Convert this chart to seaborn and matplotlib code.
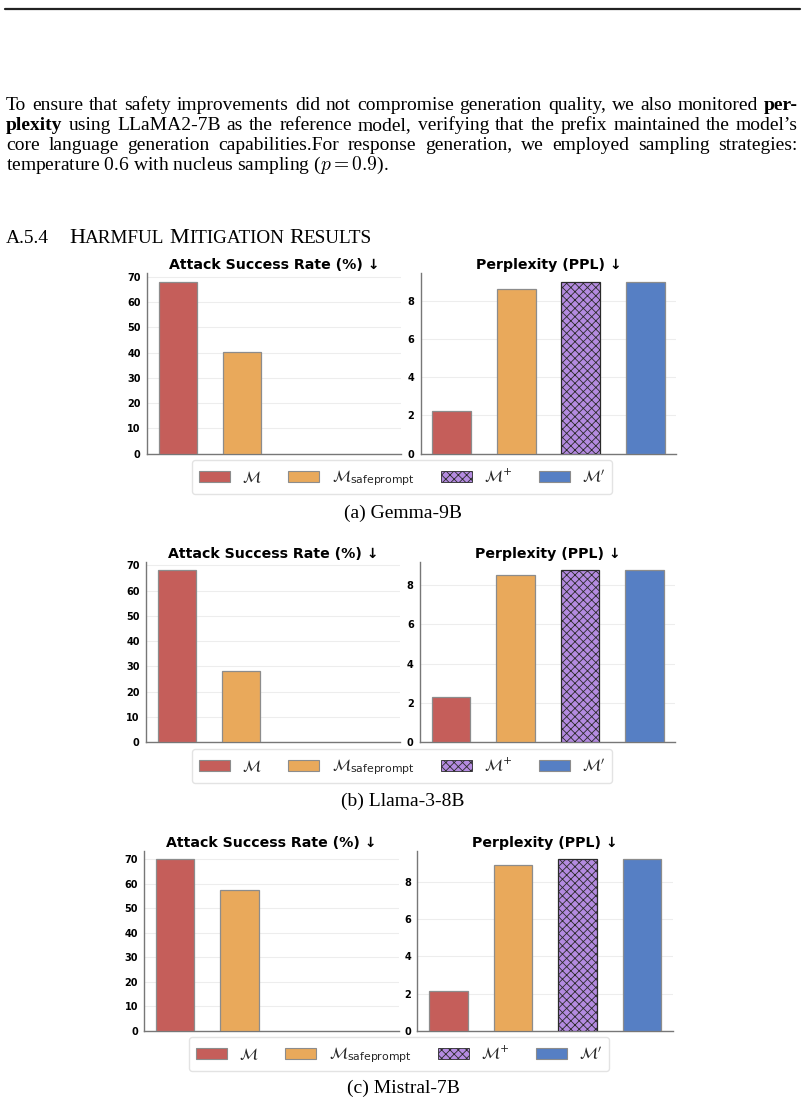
import matplotlib
matplotlib.use('Agg')
import matplotlib.pyplot as plt
import seaborn as sns
import pandas as pd
from matplotlib.patches import Patch
from matplotlib.lines import Line2D

# данные
models = ['M', 'M_safeprompt', 'M_plus', 'M_prime']
legend_labels = [r'$\mathcal{M}$', r'$\mathcal{M}_{\mathrm{safeprompt}}$',
                 r'$\mathcal{M}^{+}$', r'$\mathcal{M}^{\prime}$']
colors = ['#C55E5A', '#E9A95B', '#B48BE0', '#567FC4']

asr_gemma = [68.0, 40.1, 0, 0]
ppl_gemma = [2.23, 8.68, 9.03, 9.03]
asr_llama = [68.0, 28.0, 0, 0]
ppl_llama = [2.32, 8.48, 8.74, 8.74]
asr_mistral = [70.0, 57.6, 0, 0]
ppl_mistral = [2.13, 8.90, 9.23, 9.23]

asr_ticks = [0, 10, 20, 30, 40, 50, 60, 70]
ppl_ticks = [0, 2, 4, 6, 8]

captions = ['(a) Gemma-9B', '(b) Llama-3-8B', '(c) Mistral-7B']

W, H = 804, 1103
SERIF = 'Liberation Serif'
BODY = 14
HEAD = 16

sns.set_theme(style='white')
plt.rcParams['font.family'] = ['DejaVu Sans']
plt.rcParams['hatch.linewidth'] = 0.6

fig = plt.figure(figsize=(W / 100, H / 100), dpi=100)
renderer = fig.canvas.get_renderer()


def px_axes(left, top, right, bottom):
    """оси в пиксельных координатах страницы"""
    return fig.add_axes([left / W, 1 - bottom / H, (right - left) / W, (bottom - top) / H])


def draw_panel(ax, values, ticks, title):
    df = pd.DataFrame({'model': models, 'value': values})
    sns.barplot(data=df, x='model', y='value', hue='model', palette=colors,
                saturation=1, width=0.6, edgecolor='#8c8c8c', linewidth=0.9,
                legend=False, ax=ax, zorder=3)
    # штриховка для M+
    ax.patches[2].set_hatch('xxxx')
    ax.patches[2].set_edgecolor('#2a2a2a')
    # нулевые столбики не рисуем обводкой
    for p in ax.patches:
        if p.get_height() == 0:
            p.set_linewidth(0)
    ax.set_ylim(0, max(values) * 1.05)
    ax.set_xlim(-0.48, 3.48)
    ax.set_yticks(ticks)
    ax.set_xticks(range(4))
    ax.set_xticklabels([])
    ax.set_xlabel('')
    ax.set_ylabel('')
    ax.set_axisbelow(True)
    ax.grid(axis='y', color='#ededed', linewidth=0.8)
    ax.grid(axis='x', visible=False)
    sns.despine(ax=ax)
    for side in ['left', 'bottom']:
        ax.spines[side].set_color('#777777')
        ax.spines[side].set_linewidth(1.0)
    ax.tick_params(axis='both', length=3, width=0.8, color='#777777', pad=1.5,
                   labelsize=7, labelcolor='black')
    for lab in ax.get_yticklabels():
        lab.set_fontweight('bold')
    ax.set_title(title, fontsize=10.2, fontweight='bold', pad=3, color='black')


def justify_line(words, base_y, x0=6, x1=798):
    """выравнивание строки по ширине"""
    texts = []
    for w, weight in words:
        t = fig.text(0, 1 - base_y / H, w, fontsize=BODY, fontweight=weight,
                     family=SERIF, va='baseline', color='black')
        texts.append(t)
    widths = [t.get_window_extent(renderer).width for t in texts]
    gap = (x1 - x0 - sum(widths)) / (len(texts) - 1)
    x = x0
    for t, w in zip(texts, widths):
        t.set_x(x / W)
        x += w + gap


# линия сверху
fig.add_artist(Line2D([5 / W, 800 / W], [1 - 9 / H, 1 - 9 / H], color='#222222', linewidth=1.6))

# текст абзаца
line1 = [(w, 'normal') for w in 'To ensure that safety improvements did not compromise generation quality, we also monitored'.split()] + [('per-', 'bold')]
line2 = [('plexity', 'bold')] + [(w, 'normal') for w in 'using LLaMA2-7B as the reference model, verifying that the prefix maintained the model\u2019s'.split()]
line3 = [(w, 'normal') for w in 'core language generation capabilities.For response generation, we employed sampling strategies:'.split()]
justify_line(line1, 110)
justify_line(line2, 130)
justify_line(line3, 150)
fig.text(6 / W, 1 - 170 / H, r'temperature 0.6 with nucleus sampling ($p = 0.9$).', fontsize=BODY,
         family=SERIF, va='baseline', math_fontfamily='cm', color='black')

# заголовок капителью
x = 6
pieces = [('A.5.4', BODY, 20), ('H', HEAD, 0), ('ARMFUL', HEAD * 0.86, 5), ('M', HEAD, 0),
          ('ITIGATION', HEAD * 0.86, 5), ('R', HEAD, 0), ('ESULTS', HEAD * 0.86, 0)]
for s, size, after in pieces:
    t = fig.text(x / W, 1 - 243 / H, s, fontsize=size, family=SERIF, va='baseline', color='black')
    x += t.get_window_extent(renderer).width + after

# три подграфика
blocks = [
    (asr_gemma, ppl_gemma, 273.3, 453.5, 147, 420.7, 460, 518, 402),
    (asr_llama, ppl_llama, 561.7, 742.3, 146, 420.0, 749, 806, 402),
    (asr_mistral, ppl_mistral, 850.7, 1030.7, 144.3, 417.5, 1037, 1093, 399),
]
handles = [Patch(facecolor=c, edgecolor='#8c8c8c', linewidth=0.8) for c in colors]
handles[2] = Patch(facecolor=colors[2], edgecolor='#2a2a2a', linewidth=0.6, hatch='xxxx')

for (asr, ppl, top, bottom, l1, l2, leg_y, cap_y, leg_x), cap in zip(blocks, captions):
    ax1 = px_axes(l1, top, l1 + 254.5, bottom)
    draw_panel(ax1, asr, asr_ticks, 'Attack Success Rate (%) \u2193')
    ax2 = px_axes(l2, top, l2 + 255.5, bottom)
    draw_panel(ax2, ppl, ppl_ticks, 'Perplexity (PPL) \u2193')
    fig.legend(handles, legend_labels, loc='upper center', ncol=4,
               bbox_to_anchor=(leg_x / W, 1 - leg_y / H),
               fontsize=11.2, frameon=True, fancybox=True, edgecolor='#dddddd',
               handlelength=2.0, handleheight=0.7, columnspacing=1.7,
               handletextpad=0.8, borderaxespad=0, borderpad=0.4)
    fig.text(403 / W, 1 - cap_y / H, cap, fontsize=BODY, family=SERIF, ha='center',
             va='baseline', color='black')

fig.savefig('out.png', dpi=100)
